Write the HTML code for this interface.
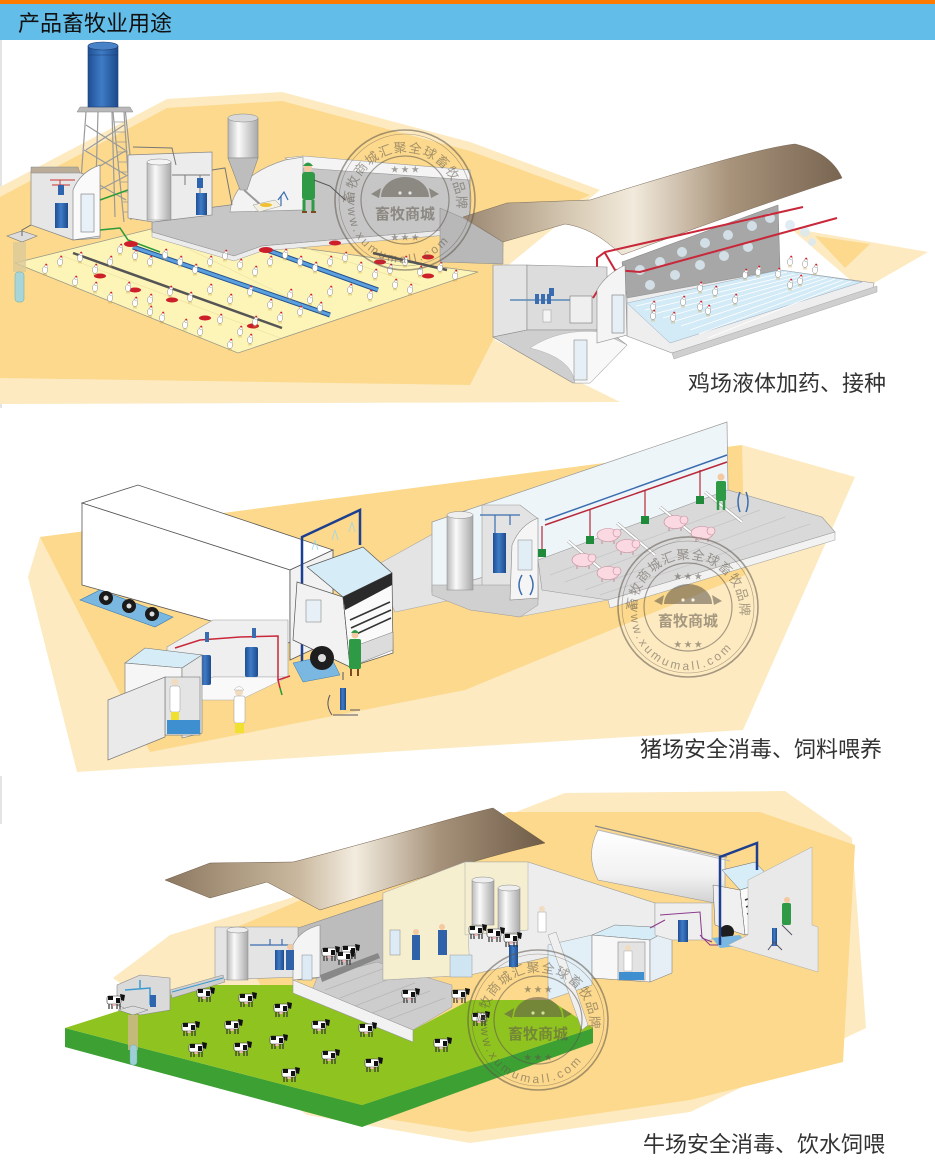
<!DOCTYPE html>
<html><head><meta charset="utf-8"><style>
html,body{margin:0;padding:0;background:#fff;}
svg{display:block;}
text{font-family:"Liberation Sans","Noto Sans CJK SC",sans-serif;}
</style></head><body>
<svg width="935" height="1168" viewBox="0 0 935 1168" xmlns="http://www.w3.org/2000/svg">
<defs>
<linearGradient id="roofA" x1="460" y1="0" x2="845" y2="0" gradientUnits="userSpaceOnUse">
<stop offset="0" stop-color="#9a8670"/><stop offset=".3" stop-color="#d9ccb6"/><stop offset=".45" stop-color="#f2eadc"/><stop offset=".7" stop-color="#a8937b"/><stop offset="1" stop-color="#776450"/></linearGradient>
<linearGradient id="roofB" x1="165" y1="0" x2="545" y2="0" gradientUnits="userSpaceOnUse">
<stop offset="0" stop-color="#8c7860"/><stop offset=".35" stop-color="#c9b89e"/><stop offset=".5" stop-color="#f3ecdf"/><stop offset=".72" stop-color="#a6927a"/><stop offset="1" stop-color="#6f5c48"/></linearGradient>
<linearGradient id="cyl" x1="0" y1="0" x2="1" y2="0">
<stop offset="0" stop-color="#b8b8b8"/><stop offset=".35" stop-color="#fafafa"/><stop offset="1" stop-color="#a9a9a9"/></linearGradient>
<linearGradient id="blu" x1="0" y1="0" x2="1" y2="0">
<stop offset="0" stop-color="#1f4f94"/><stop offset=".45" stop-color="#3f7cc6"/><stop offset="1" stop-color="#1d4a8c"/></linearGradient>
<linearGradient id="tnk" x1="0" y1="0" x2="0" y2="1">
<stop offset="0" stop-color="#ffffff"/><stop offset=".6" stop-color="#f2f2f2"/><stop offset="1" stop-color="#cfcfcf"/></linearGradient>
<g id="ck"><ellipse cx="0" cy="0" rx="2.6" ry="3.6" fill="#fff" stroke="#8a8a8a" stroke-width=".5"/><circle cx="1.2" cy="-3.8" r="1.6" fill="#fff" stroke="#8a8a8a" stroke-width=".4"/><circle cx="1.2" cy="-5.4" r="1" fill="#d8202a"/><path d="M-1,3.5v2M1,3.5v2" stroke="#c59a2a" stroke-width=".6"/></g>
<g id="cw"><rect x="-8" y="-4" width="14" height="8" rx="2" fill="#fff" stroke="#333" stroke-width=".6"/><path d="M-7,-4h5v4h-5zM1,-2h4v5h-4z" fill="#111"/><path d="M5,-6l5,1l-1,6l-3,-1z" fill="#111"/><path d="M-6,4v5M-3,4v5M2,4v5M5,4v5" stroke="#333" stroke-width="1.2"/><ellipse cx="-1" cy="5" rx="2" ry="1" fill="#f3b6b6"/></g>
<g id="pg"><ellipse cx="0" cy="0" rx="11" ry="6.5" fill="#fbd9e2" stroke="#c48a98" stroke-width=".6"/><circle cx="9" cy="-2" r="4" fill="#fbd9e2" stroke="#c48a98" stroke-width=".6"/><path d="M-6,6v3M6,6v3" stroke="#c48a98"/></g>
<path id="t1" d="M-52,4 A52,52 0 1,1 52,4"/>
<path id="b1" d="M-56,-4 A56,56 0 0,0 54,18"/>
</defs>

<rect width="935" height="1168" fill="#fff"/>
<!-- header -->
<rect x="0" y="0" width="935" height="4" fill="#ff7a00"/>
<rect x="0" y="4" width="935" height="36" fill="#62bde9"/>
<text x="18" y="31" font-size="22" fill="#111">产品畜牧业用途</text>
<rect x="0" y="40" width="2" height="368" fill="#e4e4e4"/>
<rect x="0" y="776" width="2" height="48" fill="#e4e4e4"/>

<!-- ============ SECTION 1 ============ -->
<polygon points="0,187 167,99 282,92 470,142 600,190 505,268 495,340 620,402 0,404" fill="#fdeac0"/>
<polygon points="0,197 167,108 282,101 470,151 590,195 505,235 493,340 470,385 0,378" fill="#fcd98c"/>
<polygon points="790,228 928,252 862,290" fill="#fdeac0"/>
<polygon points="815,236 870,244 845,268" fill="#fcd98c"/>

<!-- chicken floor -->
<polygon points="15,263 155,228 478,272 238,353" fill="#fdf5b8" stroke="#9a9a8a" stroke-width=".8"/>
<path d="M60,255 L280,338 M290,243 L420,285 M150,230 L330,318" stroke="#e8dea0" stroke-width=".6"/>
<!-- slab -->
<polygon points="152,215 230,205 300,165 470,178 470,228 262,246 234,256 152,232" fill="#c6c6c6" stroke="#888" stroke-width=".7"/>
<polygon points="152,232 234,256 262,246 470,228 470,233 262,251 234,261 152,237" fill="#ececec" stroke="#999" stroke-width=".5"/>
<polygon points="285,158 303,156 470,170 470,180 303,168" fill="#f4f4f4" stroke="#999" stroke-width=".6"/>
<path d="M230,212 Q234,176 285,160 L303,157 L303,210 Z" fill="#f3f3f3" stroke="#999" stroke-width=".7"/>

<!-- water tower -->
<g stroke="#9a9a9a" stroke-width="1.2" fill="none">
<path d="M78,220 L86,112 M131,220 L124,112 M95,215 L98,112 M115,217 L112,112"/>
<path d="M80,200 L128,175 M82,175 L126,200 M84,150 L126,175 M85,175 L127,150 M86,125 L125,150 M86,150 L124,125"/>
<path d="M113,112 L124,222 M125,108 L137,220"/>
<path d="M114,122h11M115,132h11M116,142h11M117,152h11M118,162h11M119,172h11M120,182h11M121,192h11M122,202h11M123,212h11" stroke-width=".8"/>
</g>
<polygon points="80,107 130,107 133,112 77,112" fill="#b8b8b8" stroke="#888" stroke-width=".5"/>
<rect x="88" y="46" width="30" height="61" fill="url(#blu)" stroke="#1a3d70" stroke-width=".6"/>
<ellipse cx="103" cy="46" rx="15" ry="4" fill="#4a82c8" stroke="#1a3d70" stroke-width=".6"/>
<path d="M88,55h30" stroke="#1a3d70" stroke-width=".5"/>

<!-- left room -->
<polygon points="31,172 78,172 100,180 100,238 73,240 31,225" fill="#e6e6e6" stroke="#888" stroke-width=".7"/>
<polygon points="31,167 78,167 80,173 31,173" fill="#b9ad9a" stroke="#888" stroke-width=".5"/>
<rect x="55" y="203" width="13" height="25" fill="url(#blu)"/>
<path d="M50,180 h25 M60,180 v15 M52,185 h18" stroke="#c33" stroke-width="1"/>
<rect x="58" y="185" width="6" height="10" fill="#2f64ae"/>
<path d="M73,240 L73,190 Q80,172 100,165 L100,236 Z" fill="#fafafa" stroke="#888" stroke-width=".7"/>
<rect x="81" y="194" width="13" height="38" fill="#e8f1f8" stroke="#777" stroke-width=".6"/>
<polygon points="7,236 22,231 37,236 22,242" fill="#ddd" stroke="#777" stroke-width=".6"/>
<path d="M22,236 L22,230 L31,225" stroke="#666" stroke-width="1" fill="none"/>
<rect x="13" y="242" width="13" height="30" fill="#dcc99a" opacity=".8"/>
<rect x="15" y="272" width="9" height="30" rx="3" fill="#a8d6d8" stroke="#6aa" stroke-width=".5"/>
<path d="M100,200 L128,190 M100,230 L120,228 L128,240 L160,252" stroke="#2a9a3a" stroke-width="1.5" fill="none"/>

<!-- middle room -->
<polygon points="128,155 212,152 212,215 153,222 128,218" fill="#ececec" stroke="#888" stroke-width=".7"/>
<rect x="147" y="162" width="24" height="58" fill="url(#cyl)" stroke="#888" stroke-width=".5"/>
<ellipse cx="159" cy="162" rx="12" ry="3" fill="#f4f4f4" stroke="#888" stroke-width=".5"/>
<rect x="196" y="193" width="11" height="22" fill="url(#blu)"/>
<path d="M172,175 L210,175 M185,175 v10 M200,175 v18 M133,147 L172,148 L176,165" stroke="#777" stroke-width="1" fill="none"/>
<rect x="197" y="178" width="6" height="10" fill="#2f64ae"/>
<path d="M212,170 L225,168 L232,205" stroke="#777" stroke-width="1" fill="none"/>

<!-- silo -->
<rect x="228" y="118" width="30" height="40" fill="url(#cyl)" stroke="#888" stroke-width=".6"/>
<ellipse cx="243" cy="118" rx="15" ry="4" fill="#d9d9d9" stroke="#888" stroke-width=".5"/>
<polygon points="228,158 258,158 247,190 240,190" fill="#bdbdbd" stroke="#888" stroke-width=".6"/>
<path d="M244,190 L262,206" stroke="#999" stroke-width="2"/>
<polygon points="253,205 275,200 281,206 259,212" fill="#f3f0e0" stroke="#999" stroke-width=".5"/>
<ellipse cx="266" cy="205" rx="6" ry="2" fill="#f0c030"/>
<path d="M278,200 l6,-8 l4,8 M281,196 v10" stroke="#3a6db0" stroke-width="1.2" fill="none"/>
<!-- green man -->
<circle cx="308" cy="168" r="4" fill="#f2c9a0"/>
<path d="M303,166 q5,-7 10,0z" fill="#2f9a45"/>
<rect x="302" y="172" width="13" height="28" rx="3" fill="#2f9a45"/>
<path d="M304,200 v11 M313,200 v11" stroke="#2f9a45" stroke-width="3"/>
<path d="M302,212 h5 M311,212 h5" stroke="#7a4a20" stroke-width="2"/>
<path d="M314,180 L330,186 L345,200" stroke="#555" stroke-width="1" fill="none"/>

<!-- feed lines -->
<path d="M73,253 L282,328" stroke="#555" stroke-width="2.5"/>
<path d="M133,247 L330,315" stroke="#25508f" stroke-width="5"/>
<path d="M133,247 L330,315" stroke="#5aa0de" stroke-width="3"/>
<path d="M267,250 L378,290" stroke="#25508f" stroke-width="5"/>
<path d="M267,250 L378,290" stroke="#5aa0de" stroke-width="3"/>
<path d="M373,253 L447,270" stroke="#555" stroke-width="2.5"/>
<g fill="#cc1f2a">
<ellipse cx="131" cy="244" rx="7" ry="3"/><ellipse cx="266" cy="250" rx="7" ry="3"/>
<ellipse cx="100" cy="276" rx="6" ry="2.5"/><ellipse cx="135" cy="290" rx="6" ry="2.5"/><ellipse cx="172" cy="300" rx="6" ry="2.5"/>
<ellipse cx="205" cy="318" rx="6" ry="2.5"/><ellipse cx="253" cy="326" rx="6" ry="2.5"/><ellipse cx="335" cy="243" rx="6" ry="2.5"/>
<ellipse cx="428" cy="276" rx="6" ry="2.5"/><ellipse cx="380" cy="262" rx="6" ry="2.5"/><ellipse cx="428" cy="257" rx="6" ry="2.5"/>
</g>
<!-- chickens -->
<g>
<use href="#ck" x="45" y="270"/><use href="#ck" x="60" y="262"/><use href="#ck" x="80" y="258"/><use href="#ck" x="95" y="270"/>
<use href="#ck" x="110" y="262"/><use href="#ck" x="120" y="250"/><use href="#ck" x="135" y="256"/><use href="#ck" x="150" y="262"/>
<use href="#ck" x="165" y="255"/><use href="#ck" x="180" y="262"/><use href="#ck" x="195" y="270"/><use href="#ck" x="210" y="262"/>
<use href="#ck" x="225" y="256"/><use href="#ck" x="240" y="265"/><use href="#ck" x="255" y="272"/><use href="#ck" x="270" y="262"/>
<use href="#ck" x="285" y="255"/><use href="#ck" x="300" y="262"/><use href="#ck" x="315" y="268"/><use href="#ck" x="330" y="262"/>
<use href="#ck" x="345" y="258"/><use href="#ck" x="360" y="268"/><use href="#ck" x="375" y="275"/><use href="#ck" x="390" y="270"/>
<use href="#ck" x="405" y="262"/><use href="#ck" x="420" y="272"/><use href="#ck" x="440" y="268"/><use href="#ck" x="455" y="276"/>
<use href="#ck" x="75" y="282"/><use href="#ck" x="95" y="288"/><use href="#ck" x="110" y="298"/><use href="#ck" x="128" y="288"/>
<use href="#ck" x="150" y="300"/><use href="#ck" x="170" y="292"/><use href="#ck" x="190" y="298"/><use href="#ck" x="210" y="290"/>
<use href="#ck" x="230" y="300"/><use href="#ck" x="250" y="292"/><use href="#ck" x="270" y="305"/><use href="#ck" x="290" y="295"/>
<use href="#ck" x="310" y="300"/><use href="#ck" x="330" y="292"/><use href="#ck" x="350" y="290"/><use href="#ck" x="370" y="296"/>
<use href="#ck" x="395" y="285"/><use href="#ck" x="410" y="290"/><use href="#ck" x="135" y="303"/><use href="#ck" x="150" y="312"/>
<use href="#ck" x="162" y="318"/><use href="#ck" x="185" y="325"/><use href="#ck" x="200" y="332"/><use href="#ck" x="220" y="320"/>
<use href="#ck" x="240" y="332"/><use href="#ck" x="255" y="322"/><use href="#ck" x="280" y="318"/><use href="#ck" x="300" y="312"/>
<use href="#ck" x="320" y="308"/><use href="#ck" x="230" y="345"/><use href="#ck" x="250" y="340"/>
</g>

<!-- right chicken house -->
<polygon points="440,208 463,218 503,242 503,264 440,262" fill="#b8b8b8" stroke="#888" stroke-width=".5"/>
<polygon points="622,262 778,205 780,270 627,298" fill="#a7a7a7" stroke="#888" stroke-width=".6"/>
<g fill="#dbe9f1" opacity=".85">
<circle cx="640" cy="270" r="5"/><circle cx="660" cy="262" r="5"/><circle cx="682" cy="252" r="5"/><circle cx="705" cy="243" r="5"/>
<circle cx="728" cy="235" r="5"/><circle cx="752" cy="226" r="5"/><circle cx="770" cy="218" r="5"/><circle cx="650" cy="285" r="5"/>
<circle cx="675" cy="275" r="5"/><circle cx="700" cy="265" r="5"/><circle cx="724" cy="256" r="5"/><circle cx="748" cy="247" r="5"/>
<circle cx="790" cy="225" r="5"/><circle cx="805" cy="232" r="5"/><circle cx="812" cy="242" r="4"/>
</g>
<polygon points="627,298 780,270 874,283 873,290 672,353 627,336" fill="#eeeeee" stroke="#999" stroke-width=".6"/>
<polygon points="627,303 780,270 862,282 670,343" fill="#d3eaf7" stroke="#9ab" stroke-width=".5"/>
<g stroke="#fff" stroke-width=".8">
<path d="M636,306 L787,272M645,310 L795,274M654,314 L803,275M663,318 L811,276M672,322 L819,277M681,326 L827,278M690,330 L835,279M699,334 L843,280M708,338 L851,281"/>
</g>
<polygon points="672,353 877,286 877,292 674,359" fill="#cfcfcf" stroke="#999" stroke-width=".4"/>
<path d="M463,217 L507,203 L590,200 C680,172 760,148 795,144 C820,150 835,162 842,178 C760,205 690,230 622,255 C605,240 590,228 565,224 L503,242 Z" fill="url(#roofA)" stroke="#7a6a58" stroke-width=".5"/>
<path d="M597,290 L597,258 L605,252 L803,207" stroke="#c8283a" stroke-width="2" fill="none"/>
<path d="M605,253 L615,270 L640,272 L837,218" stroke="#c8283a" stroke-width="2" fill="none"/>
<g>
<use href="#ck" x="653" y="307"/><use href="#ck" x="683" y="302"/><use href="#ck" x="700" y="307"/><use href="#ck" x="673" y="318"/>
<use href="#ck" x="700" y="288"/><use href="#ck" x="715" y="292"/><use href="#ck" x="735" y="300"/><use href="#ck" x="745" y="275"/>
<use href="#ck" x="758" y="272"/><use href="#ck" x="778" y="274"/><use href="#ck" x="790" y="262"/><use href="#ck" x="805" y="264"/>
<use href="#ck" x="815" y="270"/><use href="#ck" x="790" y="285"/><use href="#ck" x="800" y="281"/><use href="#ck" x="653" y="316"/><use href="#ck" x="708" y="311"/>
</g>
<!-- left room of house -->
<polygon points="493,265 527,265 527,330 493,337" fill="#e4e4e4" stroke="#888" stroke-width=".6"/>
<polygon points="527,265 607,267 607,330 527,330" fill="#dcdcdc" stroke="#888" stroke-width=".6"/>
<polygon points="493,337 527,330 607,330 627,345 590,383 573,383" fill="#cfcfcf" stroke="#888" stroke-width=".6"/>
<path d="M530,348 Q560,328 600,332 L627,345 L590,383 L575,383 Q572,358 530,348 Z" fill="#f8f8f8" stroke="#aaa" stroke-width=".4"/>
<path d="M510,300 L570,300" stroke="#5a8ab8" stroke-width="1.5"/>
<rect x="535" y="294" width="4" height="10" fill="#3a6db0"/><rect x="541" y="294" width="4" height="10" fill="#3a6db0"/><rect x="547" y="294" width="4" height="10" fill="#3a6db0"/>
<rect x="549" y="288" width="5" height="8" fill="#3a6db0"/>
<rect x="543" y="310" width="8" height="12" fill="#f4f4f4" stroke="#999" stroke-width=".5"/>
<rect x="570" y="296" width="22" height="27" fill="#efefef" stroke="#777" stroke-width=".6"/>
<path d="M593,298 L598,290" stroke="#c8283a" stroke-width="2"/>
<path d="M597,343 L597,290 Q605,275 625,265 L627,335 Z" fill="#f4f4f4" stroke="#888" stroke-width=".6"/>
<rect x="612" y="295" width="12" height="38" fill="#e5eff5" stroke="#777" stroke-width=".6"/>
<rect x="574" y="340" width="13" height="40" fill="#e5eff5" stroke="#888" stroke-width=".6"/>

<text x="688" y="391" font-size="22" fill="#333">鸡场液体加药、接种</text>

<!-- stamp 1 -->
<g transform="translate(405,200)" opacity=".55">
<g fill="none" stroke="#5e564c"><circle r="70" stroke-width="1.6"/><circle r="66" stroke-width=".6"/><circle r="44" stroke-width="1.2"/></g>
<path d="M-24,-3 A24,20 0 0,1 24,-3 Z" fill="#5e564c"/>
<path d="M-24,-12 l-10,6 l8,4z M24,-12 l10,6 l-8,4z" fill="#5e564c"/>
<circle cx="-5" cy="-7" r="1.6" fill="#fff"/><circle cx="5" cy="-7" r="1.6" fill="#fff"/>
<text x="0" y="19" font-size="15" font-weight="bold" text-anchor="middle" fill="#5e564c">畜牧商城</text>
<text x="0" y="-28" font-size="8" text-anchor="middle" fill="#5e564c">★ ★ ★</text>
<text x="0" y="40" font-size="8" text-anchor="middle" fill="#5e564c">★ ★ ★</text>
<text font-size="13" fill="#5e564c"><textPath href="#t1" textLength="168" lengthAdjust="spacing">畜牧商城汇聚全球畜牧品牌</textPath></text>
<text font-size="12" fill="#5e564c"><textPath href="#b1" textLength="150" lengthAdjust="spacing">www.xumumall.com</textPath></text>
</g>

<!-- ============ SECTION 2 ============ -->
<polygon points="28,577 40,537 742,445 855,477 743,730 465,747 77,772" fill="#fdeac0"/>
<polygon points="40,537 742,445 745,575 465,690 150,752" fill="#fcd98c"/>

<polygon points="375,566 440,530 540,560 608,600 518,617 465,597 395,612" fill="#e4e4e4" stroke="#aaa" stroke-width=".6"/>

<!-- pig building -->
<polygon points="432,522 727,422 728,492 542,560 432,592" fill="#eef5f8" stroke="#999" stroke-width=".7"/>
<polygon points="482,505 520,505 537,518 538,600 482,600" fill="#e3e3e3" stroke="#999" stroke-width=".6"/>
<polygon points="432,585 538,585 538,605 520,617 470,610 432,595" fill="#d0d0d0" stroke="#999" stroke-width=".5"/>
<rect x="447" y="515" width="26" height="75" fill="url(#cyl)" stroke="#888" stroke-width=".5"/>
<ellipse cx="460" cy="515" rx="13" ry="3.5" fill="#eee" stroke="#888" stroke-width=".5"/>
<rect x="493" y="533" width="13" height="40" fill="url(#blu)"/>
<path d="M480,515 L520,515 M495,515 v18 M510,515 v10" stroke="#3a6db0" stroke-width="1.2"/>
<path d="M510,600 L512,545 Q520,525 538,518 L538,598 Z" fill="#f5f5f5" stroke="#888" stroke-width=".6"/>
<rect x="518" y="540" width="14" height="30" fill="#e2eef6" stroke="#888" stroke-width=".5"/>
<path d="M522,575 q-6,10 0,20 M530,575 q6,10 0,20" stroke="#3a6db0" stroke-width="1.5" fill="none"/>
<polygon points="538,560 728,490 822,517 835,532 608,600 542,590" fill="#d9d9d9" stroke="#999" stroke-width=".6"/>
<g stroke="#c4c4c4" stroke-width=".7">
<path d="M550,575 L740,505 M565,582 L760,510 M585,590 L785,517 M600,595 L810,524"/>
</g>
<g stroke="#999" stroke-width="3"><path d="M568,541 L608,575 M617,523 L655,555 M660,507 L700,540 M705,492 L742,522"/></g>
<g stroke="#fff" stroke-width="2"><path d="M568,541 L608,575 M617,523 L655,555 M660,507 L700,540 M705,492 L742,522"/></g>
<polygon points="608,600 835,532 835,540 610,608" fill="#f2f2f2" stroke="#999" stroke-width=".5"/>
<path d="M545,520 L727,455" stroke="#3a6db0" stroke-width="1.5"/>
<path d="M545,525 L727,462" stroke="#b8283a" stroke-width="1.5"/>
<g stroke="#b8283a" stroke-width="1.2"><path d="M590,510 v28 M645,490 v28 M700,470 v28 M542,526 v25"/></g>
<g fill="#1f8a3a"><rect x="586" y="536" width="8" height="8"/><rect x="641" y="516" width="8" height="8"/><rect x="696" y="496" width="8" height="8"/><rect x="538" y="549" width="8" height="8"/></g>
<use href="#pg" x="608" y="535"/><use href="#pg" x="627" y="546"/><use href="#pg" x="583" y="560"/><use href="#pg" x="608" y="573"/><use href="#pg" x="675" y="522"/><use href="#pg" x="702" y="533"/>
<circle cx="721" cy="477" r="3.5" fill="#f2c9a0"/>
<rect x="716" y="481" width="10" height="20" rx="2" fill="#2f9a45"/>
<path d="M718,501 v9 M724,501 v9" stroke="#2f9a45" stroke-width="2.5"/>
<path d="M740,492 q-4,10 0,20 M746,492 q4,10 0,20" stroke="#3a6db0" stroke-width="1.5" fill="none"/>

<!-- trailer -->
<polygon points="82,503 138,485 333,550 290,570" fill="#ffffff" stroke="#555" stroke-width=".8"/>
<polygon points="82,503 290,570 290,643 82,585" fill="#ffffff" stroke="#555" stroke-width=".8"/>
<polygon points="290,570 333,550 333,640 290,660" fill="#f2f2f2" stroke="#555" stroke-width=".8"/>
<polygon points="80,600 100,590 173,617 155,627" fill="#7ab8e2" stroke="#3a7ab0" stroke-width=".6"/>
<g fill="#1a1a1a"><circle cx="106" cy="598" r="7"/><circle cx="129" cy="606" r="7"/><circle cx="152" cy="614" r="7"/></g>
<g fill="#ddd"><circle cx="106" cy="598" r="2.5"/><circle cx="129" cy="606" r="2.5"/><circle cx="152" cy="614" r="2.5"/></g>

<!-- middle disinfection room -->
<polygon points="167,647 213,620 288,620 288,677 213,677 167,700" fill="#efefef" stroke="#999" stroke-width=".6"/>
<polygon points="167,700 213,677 288,677 240,700" fill="#f9f9f9" stroke="#aaa" stroke-width=".5"/>
<path d="M175,648 L200,640 L240,637 L278,636 L278,680 L290,676 M278,680 L280,688" stroke="#c8283a" stroke-width="1.5" fill="none"/>
<path d="M280,688 L282,695" stroke="#2a9a3a" stroke-width="1.5"/>
<rect x="200" y="655" width="11" height="30" rx="2" fill="url(#blu)"/>
<rect x="245" y="647" width="13" height="30" rx="2" fill="url(#blu)"/>
<rect x="205" y="632" width="4" height="10" fill="#3a6db0"/><rect x="252" y="628" width="4" height="10" fill="#3a6db0"/>

<!-- shower box -->
<polygon points="125,663 145,648 202,655 182,668" fill="#d6ecf6" stroke="#777" stroke-width=".6"/>
<polygon points="125,663 182,668 182,735 125,735" fill="#f6f6f6" stroke="#777" stroke-width=".6"/>
<polygon points="182,668 202,655 202,733 182,738" fill="#e8e8e8" stroke="#777" stroke-width=".6"/>
<rect x="165" y="677" width="35" height="58" fill="#e4e4e4" stroke="#777" stroke-width=".6"/>
<rect x="167" y="720" width="33" height="14" fill="#3d8fd0"/>
<circle cx="175" cy="682" r="3.5" fill="#f2dcc0"/><rect x="170" y="686" width="10" height="26" rx="2" fill="#fff" stroke="#999" stroke-width=".5"/>
<rect x="171" y="712" width="8" height="8" fill="#f0e030"/>
<polygon points="108,700 165,677 165,737 108,760" fill="#eaeaea" stroke="#777" stroke-width=".7"/>
<circle cx="239" cy="692" r="4" fill="#f2dcc0"/><path d="M234,690 q5,-7 10,0z" fill="#fff" stroke="#999" stroke-width=".4"/>
<rect x="234" y="696" width="11" height="27" rx="2" fill="#fff" stroke="#999" stroke-width=".5"/>
<rect x="235" y="723" width="9" height="10" fill="#f0e030"/>

<!-- blue arch -->
<path d="M302,677 L302,537 L360,510 L360,545" stroke="#1d3f8f" stroke-width="2.5" fill="none"/>
<g stroke="#9fd6ea" stroke-width=".8"><path d="M315,540 l-3,10 M315,540 l3,10 M335,530 l-3,10 M335,530 l3,10 M352,522 l-3,10 M352,522 l3,10"/></g>

<!-- cab -->
<polygon points="297,582 343,597 350,667 293,640" fill="#f2f2f2" stroke="#555" stroke-width=".7"/>
<polygon points="343,597 392,573 393,653 350,667" fill="#fafafa" stroke="#555" stroke-width=".7"/>
<polygon points="307,567 363,547 392,573 343,597" fill="#d6ecf6" stroke="#555" stroke-width=".7"/>
<polygon points="343,597 392,573 392,585 345,610" fill="#2a2a2a"/>
<g stroke="#333" stroke-width="1.6"><path d="M350,620 L390,602 M351,628 L391,610 M352,636 L391,618"/></g>
<rect x="306" y="600" width="15" height="22" fill="#e6f0f6" stroke="#777" stroke-width=".5"/>
<polygon points="350,648 393,632 393,650 350,667" fill="#dcdcdc" stroke="#777" stroke-width=".5"/>
<polygon points="293,663 330,655 340,675 303,682" fill="#7ab8e2" stroke="#3a7ab0" stroke-width=".5"/>
<circle cx="322" cy="658" r="12" fill="#1e1e1e"/><circle cx="322" cy="658" r="4" fill="#ddd"/>
<rect x="340" y="688" width="6" height="22" fill="url(#blu)"/>
<path d="M343,680 v-8 M330,695 q-5,10 2,20 M350,710 h10 M333,715 h25" stroke="#556" stroke-width="1" fill="none"/>
<circle cx="355" cy="635" r="3.5" fill="#f2c9a0"/>
<path d="M351,633 q4,-6 8,0z" fill="#2f9a45"/>
<rect x="349" y="639" width="12" height="30" rx="2" fill="#2f9a45"/>
<path d="M351,669 v7 M358,669 v7" stroke="#7a4a20" stroke-width="2"/>

<text x="640" y="757" font-size="22" fill="#333">猪场安全消毒、饲料喂养</text>

<!-- stamp 2 -->
<g transform="translate(688,607)" opacity=".55">
<g fill="none" stroke="#5e564c"><circle r="70" stroke-width="1.6"/><circle r="66" stroke-width=".6"/><circle r="44" stroke-width="1.2"/></g>
<path d="M-24,-3 A24,20 0 0,1 24,-3 Z" fill="#5e564c"/>
<path d="M-24,-12 l-10,6 l8,4z M24,-12 l10,6 l-8,4z" fill="#5e564c"/>
<circle cx="-5" cy="-7" r="1.6" fill="#fff"/><circle cx="5" cy="-7" r="1.6" fill="#fff"/>
<text x="0" y="19" font-size="15" font-weight="bold" text-anchor="middle" fill="#5e564c">畜牧商城</text>
<text x="0" y="-28" font-size="8" text-anchor="middle" fill="#5e564c">★ ★ ★</text>
<text x="0" y="40" font-size="8" text-anchor="middle" fill="#5e564c">★ ★ ★</text>
<text font-size="13" fill="#5e564c"><textPath href="#t1" textLength="168" lengthAdjust="spacing">畜牧商城汇聚全球畜牧品牌</textPath></text>
<text font-size="12" fill="#5e564c"><textPath href="#b1" textLength="150" lengthAdjust="spacing">www.xumumall.com</textPath></text>
</g>

<!-- ============ SECTION 3 ============ -->
<polygon points="113,978 170,935 300,895 565,793 785,791 852,838 866,1028 690,1112 470,1143 307,1115" fill="#fdeac0"/>
<polygon points="230,930 508,812 760,812 855,845 843,1062 690,1100 470,1132 330,1110" fill="#fcd98c"/>

<polygon points="65,1028 362,1105 593,1028 593,1043 362,1127 65,1047" fill="#3ca033"/>
<polygon points="65,1028 200,985 300,985 413,1030 470,1000 550,1000 593,1028 362,1105" fill="#8fc31f"/>

<path d="M165,880 L210,863 L293,862 C380,840 450,818 493,808 L545,843 C470,860 400,885 320,910 L267,882 L210,898 Z" fill="url(#roofB)" stroke="#6f5c48" stroke-width=".5"/>

<!-- barn -->
<polygon points="298,928 403,893 405,960 317,978 298,980" fill="#bcbcbc" stroke="#888" stroke-width=".6"/>
<polygon points="317,978 377,962 452,985 452,1007 413,1030 310,995" fill="#cdcdcd" stroke="#999" stroke-width=".5"/>
<g stroke="#b5b5b5" stroke-width=".7"><path d="M325,990 L385,968 M340,998 L400,975 M355,1006 L415,983 M370,1014 L430,991 M385,1021 L445,998"/></g>
<polygon points="320,975 378,953 380,958 322,982" fill="#888"/>
<polygon points="293,980 413,1030 413,1042 293,993" fill="#f2f2f2" stroke="#999" stroke-width=".6"/>
<polygon points="215,927 298,927 298,977 215,980" fill="#e4e4e4" stroke="#999" stroke-width=".6"/>
<rect x="227" y="930" width="21" height="50" fill="url(#cyl)" stroke="#888" stroke-width=".5"/>
<ellipse cx="237.5" cy="930" rx="10.5" ry="3" fill="#eee" stroke="#888" stroke-width=".5"/>
<rect x="275" y="950" width="9" height="20" fill="url(#blu)"/>
<path d="M250,945 L292,945 M270,945 v-6 M282,945 v-6" stroke="#3a6db0" stroke-width="1.2"/>
<path d="M293,980 L293,945 Q300,930 320,925 L320,977 Z" fill="#f4f4f4" stroke="#888" stroke-width=".6"/>
<rect x="302" y="955" width="10" height="25" fill="#dcebf5" stroke="#888" stroke-width=".5"/>
<circle cx="290" cy="947" r="3" fill="#f2c9a0"/><rect x="286" y="950" width="8" height="20" fill="#2f62a8"/>
<!-- parlor -->
<polygon points="383,893 420,880 465,862 528,862 655,903 655,935 600,945 470,975 383,980" fill="#ededed" stroke="#999" stroke-width=".6"/>
<polygon points="383,893 465,862 470,975 383,980" fill="#f6efcf" stroke="#aaa" stroke-width=".5"/>
<polygon points="465,862 528,862 528,930 465,935" fill="#f5eed0" stroke="#aaa" stroke-width=".5"/>
<rect x="472" y="880" width="22" height="45" fill="url(#cyl)" stroke="#888" stroke-width=".5"/>
<rect x="498" y="888" width="22" height="45" fill="url(#cyl)" stroke="#888" stroke-width=".5"/>
<ellipse cx="483" cy="880" rx="11" ry="3" fill="#eee" stroke="#888" stroke-width=".5"/>
<ellipse cx="509" cy="888" rx="11" ry="3" fill="#eee" stroke="#888" stroke-width=".5"/>
<rect x="390" y="930" width="10" height="25" fill="#dcebf5" stroke="#888" stroke-width=".5"/>
<rect x="412" y="935" width="8" height="25" fill="#2f62a8"/><circle cx="416" cy="932" r="3" fill="#f2c9a0"/>
<rect x="438" y="930" width="9" height="25" fill="#2f62a8"/><circle cx="442" cy="927" r="3" fill="#f2c9a0"/>
<rect x="450" y="955" width="22" height="22" fill="#cfe5f2" stroke="#999" stroke-width=".5"/>
<rect x="509" y="945" width="9" height="22" fill="url(#blu)"/>
<rect x="538" y="912" width="8" height="20" fill="#fff" stroke="#999" stroke-width=".5"/><circle cx="542" cy="909" r="3" fill="#f2dcc0"/>
<polygon points="548,945 592,935 592,985 548,1000" fill="#e2eff7" stroke="#999" stroke-width=".5"/>
<polygon points="548,935 556,932 588,1025 582,1030" fill="#f0f0f0" stroke="#999" stroke-width=".5"/>
<!-- shower box 3 -->
<polygon points="592,935 615,925 672,928 650,940" fill="#d6ecf6" stroke="#777" stroke-width=".5"/>
<polygon points="592,935 650,940 650,982 592,978" fill="#f7f7f7" stroke="#777" stroke-width=".5"/>
<rect x="618" y="942" width="27" height="38" fill="#e3e3e3" stroke="#777" stroke-width=".5"/>
<rect x="619" y="972" width="25" height="8" fill="#3d8fd0"/>
<circle cx="628" cy="948" r="3" fill="#f2dcc0"/><rect x="624" y="951" width="8" height="20" fill="#fff" stroke="#999" stroke-width=".4"/>
<polygon points="650,940 672,928 672,973 650,982" fill="#e5eff5" stroke="#777" stroke-width=".5"/>
<polygon points="655,903 712,903 712,940 672,940 655,935" fill="#eeeeee" stroke="#999" stroke-width=".5"/>
<rect x="678" y="920" width="10" height="22" fill="url(#blu)"/>
<path d="M660,915 L700,912 L702,938 L712,942 M650,928 L665,920" stroke="#8a3a8a" stroke-width="1" fill="none"/>
<!-- tanker & truck -->
<path d="M598,830 L725,858 L725,905 L598,880 Q585,855 598,830 Z" fill="url(#tnk)" stroke="#999" stroke-width=".6"/>
<path d="M595,826 L727,857" stroke="#888" stroke-width="1.2"/>
<path d="M598,830 L730,861" stroke="#bbb" stroke-width="1"/>
<polygon points="722,870 755,862 772,880 740,890" fill="#d7edf7" stroke="#666" stroke-width=".5"/>
<polygon points="740,890 772,880 772,925 745,935" fill="#fafafa" stroke="#666" stroke-width=".5"/>
<polygon points="713,885 740,890 745,935 715,925" fill="#f0f0f0" stroke="#666" stroke-width=".5"/>
<g stroke="#333" stroke-width="1.5"><path d="M745,900 L770,891 M746,907 L770,898 M747,914 L771,905"/></g>
<circle cx="727" cy="932" r="7" fill="#1e1e1e"/>
<polygon points="712,938 740,935 748,945 720,948" fill="#7ab8e2"/>
<path d="M720,945 L720,857 L757,843 L757,870" stroke="#1d3f8f" stroke-width="2.5" fill="none"/>
<path d="M700,935 L710,945 L718,945" stroke="#8a3a8a" stroke-width="1" fill="none"/>
<polygon points="748,880 812,847 812,925 818,927 818,972 728,945 748,935" fill="#e9e9e9" stroke="#aaa" stroke-width=".5"/>
<circle cx="787" cy="900" r="3" fill="#f2c9a0"/><rect x="782" y="903" width="9" height="22" rx="2" fill="#2f9a45"/>
<rect x="772" y="928" width="5" height="18" fill="url(#blu)"/>
<path d="M768,950 l6,-8 l8,8 M782,925 L792,935" stroke="#556" stroke-width="1" fill="none"/>
<!-- sink room left -->
<polygon points="117,985 140,975 170,978 170,1010 140,1015 117,1005" fill="#dadada" stroke="#888" stroke-width=".6"/>
<path d="M125,990 L150,988 L150,1005 M140,988 v-8" stroke="#3a9ad0" stroke-width="1.5" fill="none"/>
<rect x="150" y="995" width="6" height="12" fill="#2f64ae"/>
<polygon points="170,990 223,975 225,982 172,998" fill="#cfcfcf" stroke="#888" stroke-width=".5"/>
<path d="M172,992 L223,978" stroke="#3a9ad0" stroke-width="1"/>
<polygon points="118,1010 133,1006 148,1010 133,1015" fill="#ddd" stroke="#777" stroke-width=".5"/>
<rect x="128" y="1015" width="10" height="35" fill="#cdb98a" opacity=".85"/>
<rect x="130" y="1045" width="7" height="20" rx="3" fill="#9fcfd6" stroke="#6aa" stroke-width=".4"/>
<!-- cows -->
<g>
<use href="#cw" x="205" y="993"/><use href="#cw" x="247" y="998"/><use href="#cw" x="282" y="1008"/><use href="#cw" x="190" y="1027"/>
<use href="#cw" x="233" y="1025"/><use href="#cw" x="320" y="1025"/><use href="#cw" x="367" y="1028"/><use href="#cw" x="197" y="1048"/>
<use href="#cw" x="242" y="1047"/><use href="#cw" x="278" y="1040"/><use href="#cw" x="330" y="1055"/><use href="#cw" x="373" y="1063"/>
<use href="#cw" x="290" y="1073"/><use href="#cw" x="442" y="1043"/><use href="#cw" x="460" y="994"/><use href="#cw" x="410" y="994"/>
<use href="#cw" x="330" y="952"/><use href="#cw" x="350" y="950"/><use href="#cw" x="345" y="956"/><use href="#cw" x="480" y="1017"/>
<use href="#cw" x="477" y="930"/><use href="#cw" x="495" y="933"/><use href="#cw" x="512" y="938"/><use href="#cw" x="115" y="1000"/>
</g>

<text x="643" y="1152" font-size="22" fill="#333">牛场安全消毒、饮水饲喂</text>

<!-- stamp 3 -->
<g transform="translate(538,1020)" opacity=".55">
<g fill="none" stroke="#5e564c"><circle r="70" stroke-width="1.6"/><circle r="66" stroke-width=".6"/><circle r="44" stroke-width="1.2"/></g>
<path d="M-24,-3 A24,20 0 0,1 24,-3 Z" fill="#5e564c"/>
<path d="M-24,-12 l-10,6 l8,4z M24,-12 l10,6 l-8,4z" fill="#5e564c"/>
<circle cx="-5" cy="-7" r="1.6" fill="#fff"/><circle cx="5" cy="-7" r="1.6" fill="#fff"/>
<text x="0" y="19" font-size="15" font-weight="bold" text-anchor="middle" fill="#5e564c">畜牧商城</text>
<text x="0" y="-28" font-size="8" text-anchor="middle" fill="#5e564c">★ ★ ★</text>
<text x="0" y="40" font-size="8" text-anchor="middle" fill="#5e564c">★ ★ ★</text>
<text font-size="13" fill="#5e564c"><textPath href="#t1" textLength="168" lengthAdjust="spacing">畜牧商城汇聚全球畜牧品牌</textPath></text>
<text font-size="12" fill="#5e564c"><textPath href="#b1" textLength="150" lengthAdjust="spacing">www.xumumall.com</textPath></text>
</g>
</svg>
</body></html>
